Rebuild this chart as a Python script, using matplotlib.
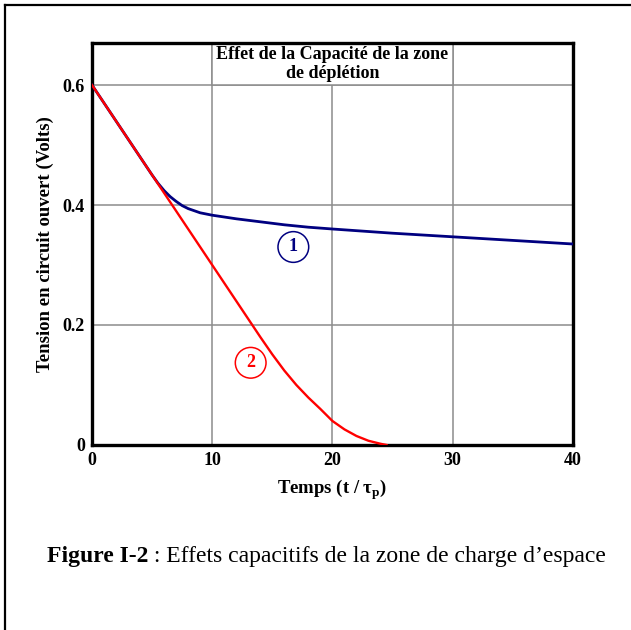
import matplotlib
matplotlib.use("Agg")
import matplotlib.pyplot as plt
from matplotlib.patches import Rectangle
from matplotlib.lines import Line2D

plt.rcParams['font.family'] = ['Liberation Serif', 'DejaVu Serif']
plt.rcParams['mathtext.fontset'] = 'custom'
plt.rcParams['mathtext.rm'] = 'Liberation Serif:bold'
plt.rcParams['mathtext.bf'] = 'Liberation Serif:bold'

# curve 1 : with depletion capacitance
t_cap = [0, 2, 4, 5, 5.5, 6, 6.5, 7, 7.5, 8, 9, 10, 12, 14, 16, 18, 20, 25, 30, 35, 40]
v_cap = [0.6, 0.54, 0.48, 0.45, 0.436, 0.424, 0.414, 0.406, 0.399, 0.394,
         0.387, 0.383, 0.377, 0.372, 0.367, 0.363, 0.36, 0.353, 0.347, 0.341, 0.335]

# curve 2 : without
t_nocap = [0, 5, 10, 13, 14, 15, 16, 17, 18, 19, 20, 21, 22, 23, 24, 24.5]
v_nocap = [0.6, 0.45, 0.3, 0.21, 0.18, 0.151, 0.124, 0.1, 0.079, 0.06,
           0.04, 0.026, 0.015, 0.007, 0.002, 0.0]

x_ticks = [0, 10, 20, 30, 40]
y_ticks = [0, 0.2, 0.4, 0.6]
y_ticklabels = ["0", "0.2", "0.4", "0.6"]

NAVY = "#000080"
RED = "#ff0000"
GRID = "#8c8c8c"

fig = plt.figure(figsize=(6.31, 6.30), dpi=100)

# outer frame (left and top edges only visible)
fig.add_artist(Line2D([0.008, 0.008], [0, 0.992], color="black", lw=1.6, transform=fig.transFigure))
fig.add_artist(Line2D([0.008, 1.0], [0.992, 0.992], color="black", lw=1.6, transform=fig.transFigure))

ax = fig.add_axes([0.1458, 0.2937, 0.762, 0.638])
ax.set_xlim(0, 40)
ax.set_ylim(0, 0.67)
ax.set_xticks(x_ticks)
ax.set_yticks(y_ticks)
ax.set_yticklabels(y_ticklabels)
ax.tick_params(length=0, labelsize=13, pad=5)
for lab in ax.get_xticklabels() + ax.get_yticklabels():
    lab.set_fontweight("bold")
ax.grid(True, color=GRID, lw=1.1)
ax.set_axisbelow(True)
for s in ax.spines.values():
    s.set_linewidth(2.4)

ax.plot(t_cap, v_cap, color=NAVY, lw=2.0, zorder=3)
ax.plot(t_nocap, v_nocap, color=RED, lw=1.7, zorder=3)

# title box between grid lines
ax.add_patch(Rectangle((10, 0.6), 20, 0.07, facecolor="white", edgecolor=GRID, lw=1.1, zorder=2))
ax.text(20, 0.651, "Effet de la Capacité de la zone", ha="center", va="center",
        fontsize=13, fontweight="bold", zorder=4)
ax.text(20, 0.62, "de déplétion", ha="center", va="center",
        fontsize=13, fontweight="bold", zorder=4)

ax.text(16.75, 0.33, "1", color=NAVY, fontsize=13, fontweight="bold", ha="center", va="center",
        bbox=dict(boxstyle="circle,pad=0.38", fc="white", ec=NAVY, lw=1.1), zorder=4)
ax.text(13.2, 0.137, "2", color=RED, fontsize=13, fontweight="bold", ha="center", va="center",
        bbox=dict(boxstyle="circle,pad=0.38", fc="white", ec=RED, lw=1.1), zorder=4)

ax.set_xlabel(r"Temps (t / τ$_\mathbf{p}$)", fontsize=13.5, fontweight="bold", labelpad=6)
ax.set_ylabel("Tension en circuit ouvert (Volts)", fontsize=13.5, fontweight="bold", labelpad=6)

# caption: bold part followed by regular part
cap_bold = fig.text(0.0745, 0.116, "Figure I-2", fontsize=17, fontweight="bold", ha="left", va="center")
fig.canvas.draw()
bb = cap_bold.get_window_extent(fig.canvas.get_renderer())
fig.text(bb.x1 / fig.bbox.width, 0.116, " : Effets capacitifs de la zone de charge d\u2019espace",
         fontsize=17, ha="left", va="center")

fig.savefig("out.png", dpi=100)
